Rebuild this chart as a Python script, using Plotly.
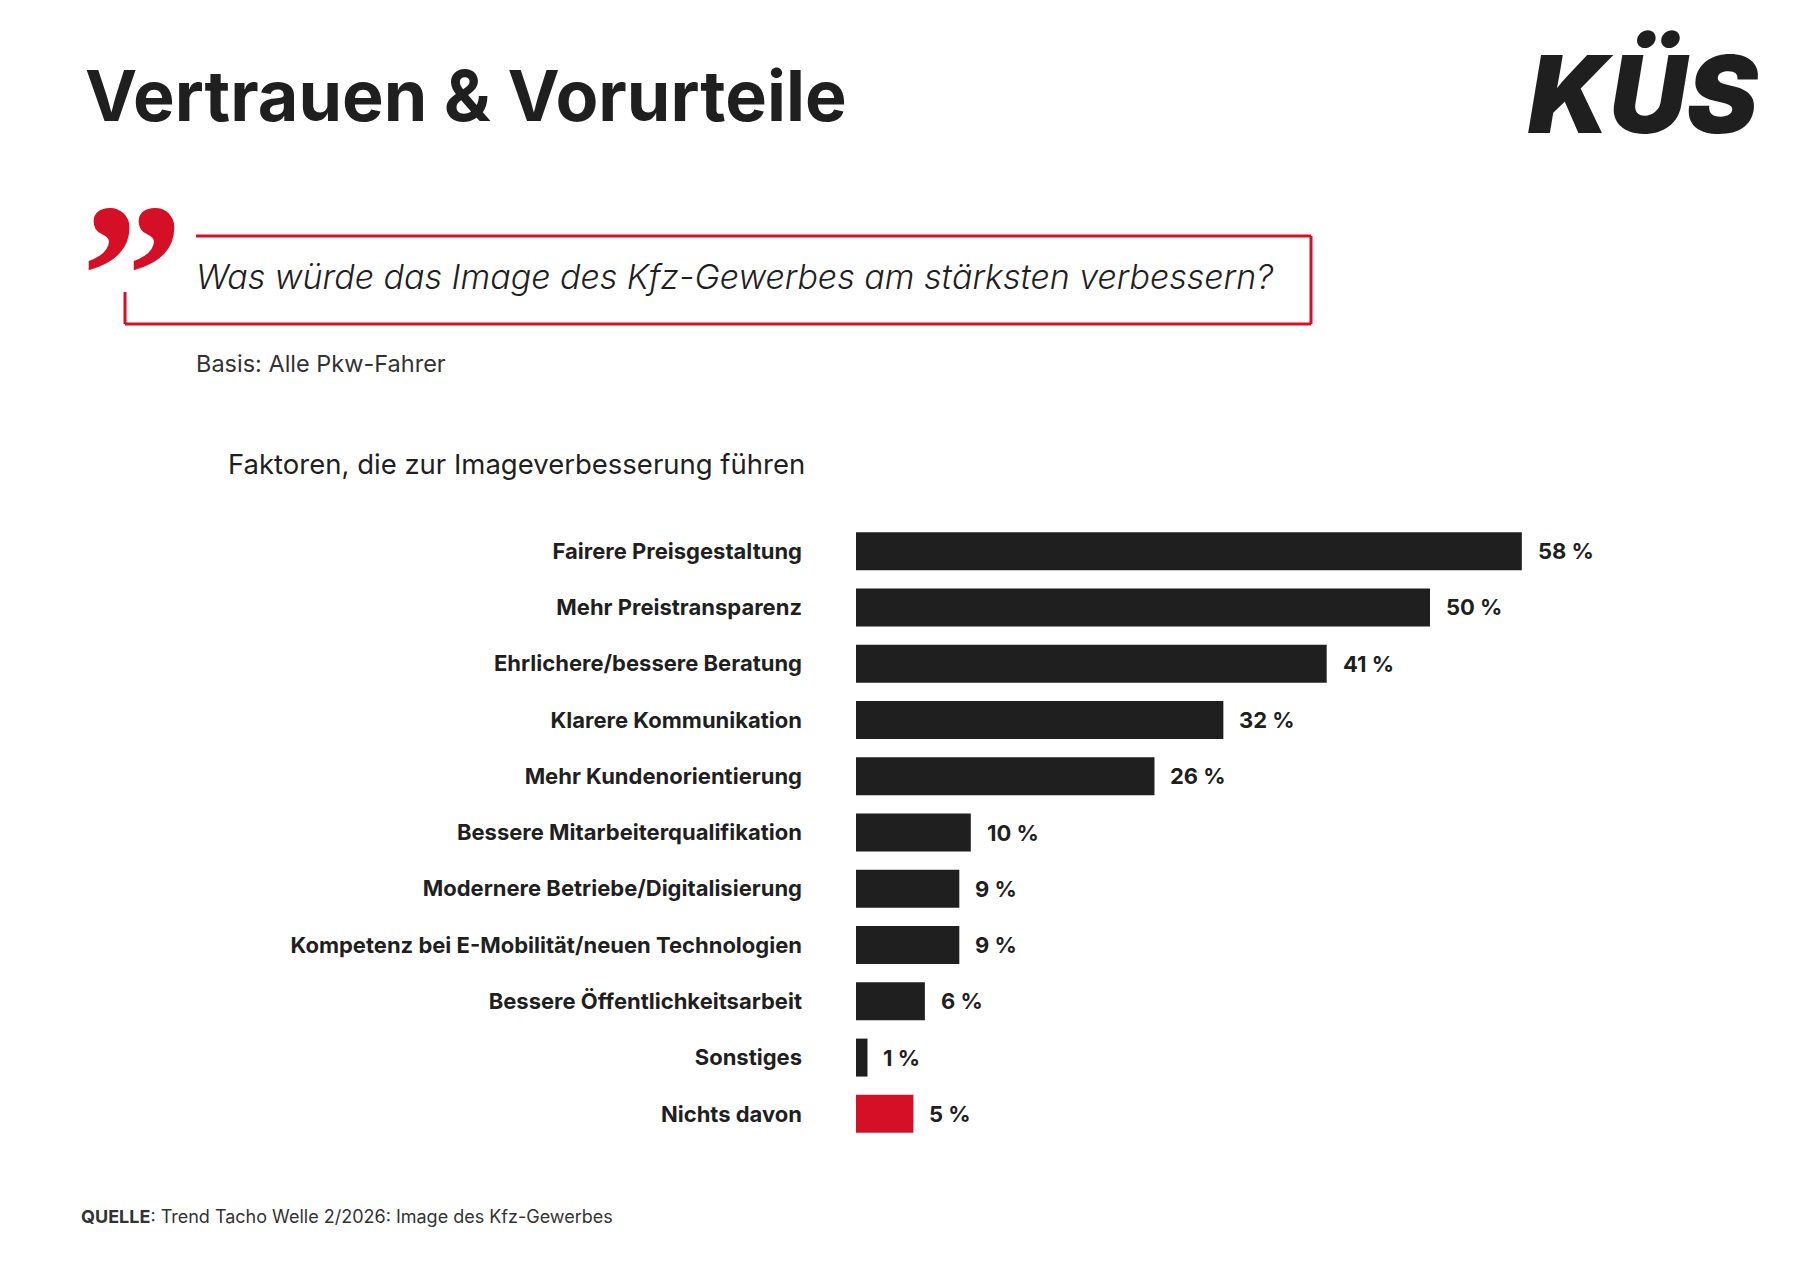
import plotly.graph_objects as go

# Trend Tacho Welle 2/2026 - Faktoren fuer ein besseres Image
kategorien = [
    "Fairere Preisgestaltung",
    "Mehr Preistransparenz",
    "Ehrlichere/bessere Beratung",
    "Klarere Kommunikation",
    "Mehr Kundenorientierung",
    "Bessere Mitarbeiterqualifikation",
    "Modernere Betriebe/Digitalisierung",
    "Kompetenz bei E-Mobilität/neuen Technologien",
    "Bessere Öffentlichkeitsarbeit",
    "Sonstiges",
    "Nichts davon",
]
werte = [58, 50, 41, 32, 26, 10, 9, 9, 6, 1, 5]
hervorgehoben = "Nichts davon"

titel = "Vertrauen & Vorurteile"
frage = "Was würde das Image des Kfz-Gewerbes am stärksten verbessern?"
basis = "Basis: Alle Pkw-Fahrer"
untertitel = "Faktoren, die zur Imageverbesserung führen"
quelle = "<b>QUELLE</b>: Trend Tacho Welle 2/2026: Image des Kfz-Gewerbes"

DUNKEL = "#1f1f1f"
ROT = "#d50f25"
FONT = "Inter"

# Seitengeometrie (Pixel), damit Texte/Rahmen ausserhalb des Plots gesetzt werden koennen
W, H = 1800, 1272
L, R, T, B = 848, 148, 515, 138
PW, PH = W - L - R, H - T - B


def px(x):
    return (x - L) / PW


def py(y):
    return (H - B - y) / PH


farben = [ROT if k == hervorgehoben else DUNKEL for k in kategorien]

fig = go.Figure()
fig.add_trace(go.Bar(
    x=werte,
    y=kategorien,
    orientation="h",
    width=0.675,
    marker=dict(color=farben, line=dict(width=0)),
    hoverinfo="skip",
))

# Werte neben den Balken
for k, v in zip(kategorien, werte):
    fig.add_annotation(
        x=v, y=k, xref="x", yref="y",
        text=f"{v} %", showarrow=False,
        xanchor="left", yanchor="middle", xshift=14,
        font=dict(family=FONT, size=22, color=DUNKEL, weight=700),
    )

texte = [
    # text, x, y, groesse, gewicht, stil, farbe, xanchor
    (titel, 75, 87.5, 70, 700, "normal", DUNKEL, "left"),
    (frage, 186, 268.5, 34, 300, "italic", DUNKEL, "left"),
    (basis, 186, 355.5, 23.5, 400, "normal", "#333333", "left"),
    (untertitel, 218, 456, 27.5, 400, "normal", DUNKEL, "left"),
    (quelle, 71, 1208.5, 18, 400, "normal", "#333333", "left"),
    ("KÜS", 1636, 86, 107, 900, "italic", DUNKEL, "center"),
]
for txt, x, y, size, weight, style, color, xa in texte:
    fig.add_annotation(
        x=px(x), y=py(y), xref="paper", yref="paper",
        text=txt, showarrow=False, xanchor=xa, yanchor="middle",
        font=dict(family=FONT, size=size, color=color, weight=weight, style=style),
    )

# rotes Anfuehrungszeichen
fig.add_annotation(
    x=px(124), y=py(232), xref="paper", yref="paper",
    text="”", showarrow=False, xanchor="center", yanchor="middle", yshift=-36,
    font=dict(family="Liberation Serif", size=205, color=ROT, weight=700),
)

# roter Rahmen um die Frage
rahmen = [
    (188, 228, 1303, 228),
    (1303, 228, 1303, 316),
    (117, 316, 1303, 316),
    (117, 284, 117, 316),
]
for x0, y0, x1, y1 in rahmen:
    fig.add_shape(
        type="line", xref="paper", yref="paper",
        x0=px(x0), y0=py(y0), x1=px(x1), y1=py(y1),
        line=dict(color=ROT, width=3),
    )

fig.update_layout(
    width=W, height=H,
    margin=dict(l=L, r=R, t=T, b=B),
    paper_bgcolor="white", plot_bgcolor="white",
    showlegend=False,
    bargap=0.3,
)
fig.update_xaxes(range=[0, PW / 11.48], visible=False, fixedrange=True)
fig.update_yaxes(
    autorange="reversed",
    showgrid=False, zeroline=False, showline=False, ticks="",
    ticklabelstandoff=53,
    tickfont=dict(family=FONT, size=22, color=DUNKEL, weight=700),
    fixedrange=True,
)

fig.write_html("out.html")
